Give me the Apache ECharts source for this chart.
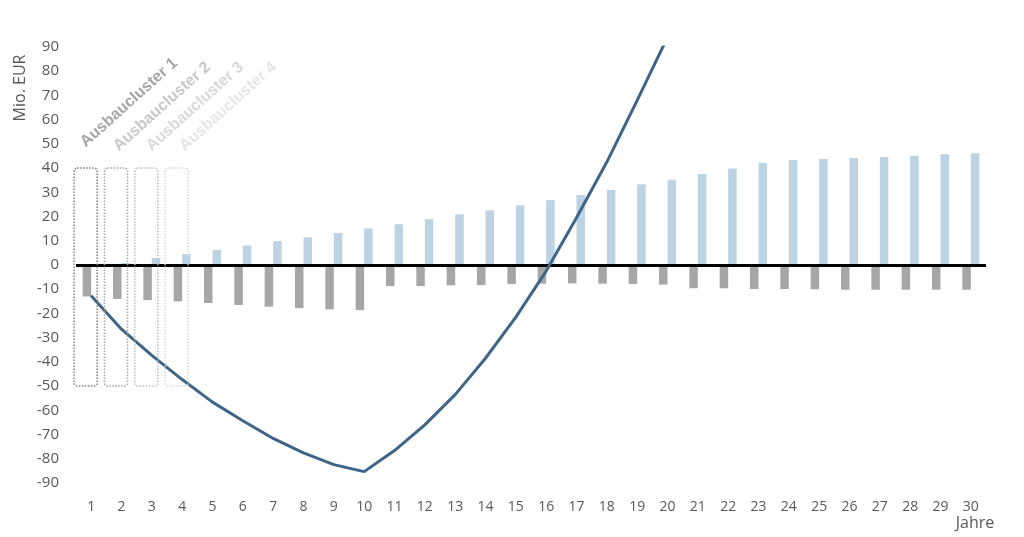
<!DOCTYPE html>
<html><head><meta charset="utf-8">
<script src="https://cdn.jsdelivr.net/npm/echarts@6/dist/echarts.min.js"></script>
<style>html,body{margin:0;padding:0;background:#fff}#c{width:1024px;height:537px}</style>
</head><body><div id="c"></div>
<script>
const years = ['1','2','3','4','5','6','7','8','9','10','11','12','13','14','15','16','17','18','19','20','21','22','23','24','25','26','27','28','29','30'];
const costs = [-13,-14,-14.5,-15,-15.7,-16.5,-17.2,-17.8,-18.3,-18.6,-8.7,-8.7,-8.4,-8.3,-7.8,-7.7,-7.6,-7.7,-7.8,-8.1,-9.6,-9.6,-9.9,-9.9,-10,-10.2,-10.2,-10.2,-10.2,-10.2];
const revenues = [0,0.8,2.9,4.5,6.2,8.0,9.8,11.4,13.2,15.1,16.8,18.9,20.9,22.6,24.6,26.8,28.9,31.0,33.3,35.2,37.6,39.8,42.1,43.4,43.8,44.2,44.6,45.1,45.7,46.1];
const cumulative = [-12.7,-26.5,-37.3,-47.3,-56.6,-64.3,-71.6,-77.6,-82.4,-85.3,-76.6,-66,-53.5,-38.5,-21.5,-2.5,19.5,42.5,68,94];
const clusterLabels = ['Ausbaucluster 1','Ausbaucluster 2','Ausbaucluster 3','Ausbaucluster 4'];
const clusterYears = ['1','2','3','4'];
const clusterBoxRange = [40,-50];
const labelColors = ['#a6a6a6','#c8c8c8','#d9d9d9','#e6e6e6'];
const boxColors = ['#808080','#a6a6a6','#bfbfbf','#d6d6d6'];
const yTickMin = -90, yTickMax = 90, yTickStep = 10;

const chart = echarts.init(document.getElementById('c'));
const txt = '#595959';
const font = 'Open Sans';
chart.setOption({
  animation: false,
  grid: {left: 76, right: 38, top: 47, bottom: 54, containLabel: false},
  xAxis: {
    type: 'category', data: years,
    axisLine: {show: false}, axisTick: {show: false},
    axisLabel: {color: txt, fontFamily: font, fontSize: 14, margin: 17}
  },
  yAxis: {
    type: 'value', min: yTickMin, max: yTickMax, interval: yTickStep,
    axisLine: {show: false}, axisTick: {show: false}, splitLine: {show: false},
    axisLabel: {color: txt, fontFamily: font, fontSize: 15, margin: 17}
  },
  series: [
    {type: 'bar', data: costs, barWidth: 8.5, barGap: '0%', itemStyle: {color: '#a6a6a6'}, z: 2,
     markLine: {silent: true, symbol: ['none','none'], label: {show: false},
       lineStyle: {color: '#000', width: 3, type: 'solid'}, data: [{yAxis: 0}]}},
    {type: 'bar', data: revenues, barWidth: 8.5, itemStyle: {color: '#bcd3e3'}, z: 2},
    {type: 'line', data: cumulative, symbol: 'none', clip: true, z: 5,
     lineStyle: {color: '#3e6587', width: 3}}
  ]
});

const g = [];
const firstCenter = chart.convertToPixel({gridIndex: 0}, [clusterYears[0], 47]);
clusterYears.forEach((yr, i) => {
  const top = chart.convertToPixel({gridIndex: 0}, [yr, clusterBoxRange[0]]);
  const bot = chart.convertToPixel({gridIndex: 0}, [yr, clusterBoxRange[1]]);
  g.push({type: 'rect', shape: {x: top[0] - 17, y: top[1], width: 23, height: bot[1] - top[1], r: 3},
    style: {fill: 'none', stroke: boxColors[i], lineWidth: 1.5, lineDash: [1.5, 1.5]}, z: 10});
  g.push({type: 'text', x: firstCenter[0] - 3 + i * 33, y: firstCenter[1] + (i === 0 ? -1 : 3), rotation: 42 * Math.PI / 180,
    style: {text: clusterLabels[i], fill: labelColors[i], font: 'bold 16px "Liberation Sans"', align: 'left', verticalAlign: 'bottom'}, z: 10});
});
g.push({type: 'text', x: 20, y: 88, rotation: Math.PI / 2,
  style: {text: 'Mio. EUR', fill: txt, font: '16px "Open Sans"', align: 'center', verticalAlign: 'middle'}});
g.push({type: 'text', x: 975, y: 523,
  style: {text: 'Jahre', fill: txt, font: '16px "Open Sans"', align: 'center', verticalAlign: 'middle'}});
chart.setOption({graphic: g});
</script>
</body></html>
